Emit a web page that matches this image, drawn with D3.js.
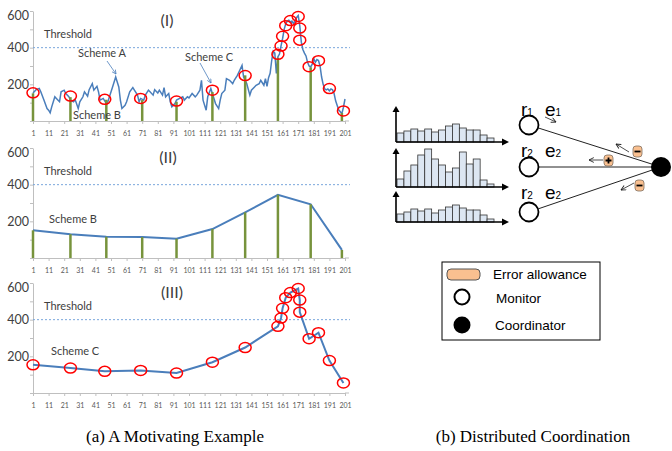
<!DOCTYPE html>
<html lang="en">
<head>
<meta charset="UTF-8">
<title>Motivating example</title>
<script src="https://cdn.jsdelivr.net/npm/d3@7"></script>
<style>
  body { margin: 0; background: #fff; }
  svg text { font-family: Lato, "Liberation Sans", sans-serif; }
</style>
</head>
<body>
<script>
// scheme A: raw stream (panel I)
const aDays = [1,3,5,6,8,10,11,12,13,15,16,18,19,21,22,24,25,27,28,30,31,33,34,36,37,39,40,42,43,44,46,48,49,50,52,53,54,56,57,58,60,61,63,65,66,68,69,70,72,73,75,76,78,79,81,82,84,85,86,88,89,90,92,93,95,97,98,100,101,103,105,106,108,109,110,112,113,115,116,118,120,121,122,124,125,127,129,130,132,133,135,136,138,140,141,143,144,146,147,149,150,151,152,153,154,155,156,157,158,159,160,161,162,163,164,165,166,167,168,169,170,171,172,173,174,175,176,177,178,179,180,181,182,183,184,185,186,187,188,189,190,191,192,193,194,195,196,197,198,199,200,201]
const aVals = [153,171,177,159,114,68,59,45,77,132,123,105,159,168,150,132,114,105,117,68,105,132,159,135,171,204,168,189,159,114,123,95,105,132,186,213,240,186,114,68,86,105,159,182,168,141,105,123,114,141,168,159,141,171,153,168,141,182,132,150,105,77,95,114,123,132,114,132,126,150,132,141,168,222,114,59,132,177,150,95,68,114,150,168,231,222,204,222,249,267,303,240,204,141,168,186,195,204,222,195,231,189,236,260,330,380,370,260,350,365,410,450,500,530,545,550,540,545,530,550,565,575,520,430,390,370,355,320,300,295,310,340,320,335,330,300,240,200,175,170,175,165,175,170,150,110,85,60,50,40,75,120]
// scheme B: periodic samples
const bDays = [1, 25, 48, 71, 93, 116, 137, 158, 179, 199]
const bVals = [151, 130, 116, 114, 105, 158, 249, 345, 293, 44]
// scheme C: adaptive samples
const cDays = [1, 25, 47, 70, 93, 116, 137, 158, 160, 161, 163, 166, 171, 172, 172, 178, 184, 191, 200]
const cVals = [154, 136, 118, 123, 109, 168, 248, 364, 409, 462, 520, 548, 570, 507, 441, 296, 329, 177, 55]
const xTickVals = [1, 11, 21, 31, 41, 51, 61, 71, 81, 91, 101, 111, 121, 131, 141, 151, 161, 171, 181, 191, 201]
const yTickVals = [0, 100, 200, 300, 400, 500, 600]
const yLabelVals = [200, 400, 600]
const threshold = 400
// histograms of the three monitors
const hist1 = [9, 11, 13, 11, 13, 10, 12, 16, 18, 14, 12, 12, 7, 4]
const hist2 = [8, 16, 22, 32, 38, 28, 22, 15, 19, 35, 23, 28, 7, 3]
const hist3 = [8, 10, 13, 11, 13, 9, 12, 15, 17, 14, 12, 12, 7, 3]

const [width, height] = [672, 451]
const blue = '#4a7ebb', green = '#77933c', textCol = '#404040'
const svg = d3.select('body').append('svg').attr('width', width).attr('height', height)

const defs = svg.append('defs')
const addMarker = (id, color, size) => {
    defs.append('marker').attr('id', id).attr('viewBox', '0 0 10 10')
        .attr('markerUnits', 'userSpaceOnUse')
        .attr('refX', 9).attr('refY', 5).attr('markerWidth', size).attr('markerHeight', size)
        .attr('orient', 'auto')
        .append('path').attr('d', 'M1,1 L9,5 L1,9').attr('fill', 'none')
        .attr('stroke', color).attr('stroke-width', 1.5)
}
addMarker('arrBlue', blue, 5)
addMarker('arrBlack', '#222', 6)

const x = d3.scaleLinear().domain([1, 201]).range([33, 345])

const renderPanel = (base, title, titleX) => {
    const y = d3.scaleLinear().domain([0, 600]).range([base, base - 110])
    const g = svg.append('g')
    const xAxis = d3.axisBottom(x).tickValues(xTickVals).tickSize(3).tickSizeOuter(0).tickPadding(7)
    g.append('g').attr('transform', `translate(0, ${base})`).call(xAxis)
    g.append('path').attr('d', `M345,${base}H349`).attr('stroke', '#bfbfbf')
    const yAxis = d3.axisLeft(y).tickValues(yTickVals).tickSize(3).tickSizeOuter(0).tickPadding(1)
        .tickFormat(d => yLabelVals.includes(d) ? d : '')
    g.append('g').attr('class', 'y-axis').attr('transform', 'translate(33, 0)').call(yAxis)
    g.selectAll('.domain, .tick line').attr('stroke', '#bfbfbf')
    g.selectAll('.tick text').attr('fill', '#595959').style('font-size', '7px')
    g.selectAll('.y-axis .tick text').attr('fill', textCol).style('font-size', '12.5px')
    g.selectAll('.y-axis .tick').filter(d => d === 600).select('text').attr('dy', '0.65em')
    g.append('line').attr('x1', 33).attr('x2', 350).attr('y1', y(threshold)).attr('y2', y(threshold))
        .attr('stroke', '#7aa6dc').attr('stroke-dasharray', '2,2')
    g.append('text').attr('x', 44).attr('y', y(threshold) - 10).attr('fill', textCol)
        .style('font-size', '11px').text('Threshold')
    g.append('text').attr('x', titleX).attr('y', base - 95).attr('text-anchor', 'middle')
        .attr('fill', textCol).style('font-size', '16px').text(title)
    return { g, y }
}

const drawBars = (g, y) => {
    g.selectAll('line.bar').data(bDays).join('line').attr('class', 'bar')
        .attr('x1', d => x(d)).attr('x2', d => x(d))
        .attr('y1', y(0)).attr('y2', (d, i) => y(bVals[i]))
        .attr('stroke', green).attr('stroke-width', 2.5)
}
const drawCircles = (g, y) => {
    g.selectAll('ellipse').data(cDays).join('ellipse')
        .attr('cx', d => x(d)).attr('cy', (d, i) => y(cVals[i]))
        .attr('rx', 6).attr('ry', 5).attr('fill', 'none')
        .attr('stroke', '#ff0000').attr('stroke-width', 1.5)
}
const label = (g, tx, ty, s) => g.append('text').attr('x', tx).attr('y', ty)
    .attr('fill', textCol).style('font-size', '11px').text(s)

// panel I
const p1 = renderPanel(121, '(I)', 167)
p1.g.append('path').datum(aDays)
    .attr('d', d3.line().x(d => x(d)).y((d, i) => p1.y(aVals[i])))
    .attr('fill', 'none').attr('stroke', blue).attr('stroke-width', 1.5)
drawBars(p1.g, p1.y)
drawCircles(p1.g, p1.y)
label(p1.g, 78, 57, 'Scheme A')
label(p1.g, 73, 119, 'Scheme B')
label(p1.g, 185, 61, 'Scheme C')
p1.g.append('line').attr('x1', 107).attr('y1', 61).attr('x2', 116).attr('y2', 74)
    .attr('stroke', blue).attr('stroke-width', 0.8).attr('marker-end', 'url(#arrBlue)')
p1.g.append('line').attr('x1', 200).attr('y1', 63).attr('x2', 211).attr('y2', 83)
    .attr('stroke', blue).attr('stroke-width', 0.8).attr('marker-end', 'url(#arrBlue)')

// panel II
const p2 = renderPanel(258, '(II)', 168)
p2.g.append('path').datum(bDays)
    .attr('d', d3.line().x(d => x(d)).y((d, i) => p2.y(bVals[i])))
    .attr('fill', 'none').attr('stroke', blue).attr('stroke-width', 2)
drawBars(p2.g, p2.y)
label(p2.g, 49, 223, 'Scheme B')

// panel III
const p3 = renderPanel(393, '(III)', 172)
p3.g.append('path').datum(cDays)
    .attr('d', d3.line().x(d => x(d)).y((d, i) => p3.y(cVals[i])))
    .attr('fill', 'none').attr('stroke', blue).attr('stroke-width', 2)
drawCircles(p3.g, p3.y)
label(p3.g, 51, 355, 'Scheme C')

// (b) distributed coordination
const right = svg.append('g')
const hx = d3.scaleBand().domain(d3.range(hist1.length)).range([397, 494])
const hy = d3.scaleLinear().domain([0, 40]).range([0, 40])
const renderHist = (data, base, top) => {
    const g = right.append('g')
    g.selectAll('rect').data(data).join('rect')
        .attr('x', (d, i) => hx(i)).attr('width', hx.bandwidth())
        .attr('y', d => base - hy(d)).attr('height', d => hy(d))
        .attr('fill', '#dce6f2').attr('stroke', '#333').attr('stroke-width', 0.8)
    g.append('path').attr('d', `M396,${base}V${top + 5}M396,${base}H503`)
        .attr('stroke', '#000').attr('stroke-width', 1.6)
    g.append('path').attr('d', `M392.5,${top + 6}L396,${top}L399.5,${top + 6}Z`)
    g.append('path').attr('d', `M502,${base - 3.5}L509,${base}L502,${base + 3.5}Z`)
}
renderHist(hist1, 142, 106)
renderHist(hist2, 187, 148)
renderHist(hist3, 222, 191)

const coord = [661, 167]
const monitors = [[529, 125], [529, 167], [529, 212]]
monitors.forEach(([cx, cy]) => {
    const a = Math.atan2(coord[1] - cy, coord[0] - cx)
    right.append('line').attr('x1', cx + 10 * Math.cos(a)).attr('y1', cy + 10 * Math.sin(a))
        .attr('x2', coord[0]).attr('y2', coord[1]).attr('stroke', '#222').attr('stroke-width', 1)
    right.append('circle').attr('cx', cx).attr('cy', cy).attr('r', 9.5)
        .attr('fill', '#fff').attr('stroke', '#000').attr('stroke-width', 1.8)
})
right.append('circle').attr('cx', coord[0]).attr('cy', coord[1]).attr('r', 10).attr('fill', '#000')

const reLabels = [['1', '1', 116], ['2', '2', 157], ['2', '2', 199]]
reLabels.forEach(([rs, es, by]) => {
    const t = right.append('text').attr('y', by).attr('fill', '#000')
        .style('font-family', '"Liberation Sans", Arial, sans-serif').style('font-size', '19px')
    t.append('tspan').attr('x', 521).text('r')
    t.append('tspan').style('font-size', '10px').text(rs)
    t.append('tspan').attr('x', 545).text('e')
    t.append('tspan').style('font-size', '10px').text(es)
})

const smallArrows = [[545, 117, 556, 122], [629, 152, 616, 144], [603, 160, 589, 160], [634, 183, 621, 190]]
right.selectAll('line.sa').data(smallArrows).join('line').attr('class', 'sa')
    .attr('x1', d => d[0]).attr('y1', d => d[1]).attr('x2', d => d[2]).attr('y2', d => d[3])
    .attr('stroke', '#222').attr('stroke-width', 0.8).attr('marker-end', 'url(#arrBlack)')

const allowances = [[637.5, 151.5, '-'], [608.5, 160.5, '+'], [639.5, 185.5, '-']]
allowances.forEach(([cx, cy, s]) => {
    right.append('rect').attr('x', cx - 4.5).attr('y', cy - 5.5).attr('width', 9).attr('height', 11)
        .attr('rx', 3).attr('fill', '#fac090').attr('stroke', '#7f6f5f').attr('stroke-width', 0.8)
    right.append('path').attr('d', s === '+' ? `M${cx - 3},${cy}H${cx + 3}M${cx},${cy - 3}V${cy + 3}` : `M${cx - 3},${cy}H${cx + 3}`)
        .attr('stroke', '#000').attr('stroke-width', 1.8)
})

// legend
const legend = right.append('g')
legend.append('rect').attr('x', 442).attr('y', 262).attr('width', 158).attr('height', 78)
    .attr('fill', '#fff').attr('stroke', '#000').attr('stroke-width', 1)
legend.append('rect').attr('x', 447).attr('y', 269).attr('width', 33).attr('height', 11).attr('rx', 4)
    .attr('fill', '#fac090').attr('stroke', '#555')
legend.append('circle').attr('cx', 462).attr('cy', 297).attr('r', 7.5)
    .attr('fill', '#fff').attr('stroke', '#000').attr('stroke-width', 2)
legend.append('circle').attr('cx', 462).attr('cy', 325).attr('r', 8.5).attr('fill', '#000')
const legendItems = [['Error allowance', 493, 279], ['Monitor', 496, 303], ['Coordinator', 495, 330]]
legend.selectAll('text').data(legendItems).join('text')
    .attr('x', d => d[1]).attr('y', d => d[2]).text(d => d[0])
    .style('font-family', '"Liberation Sans", Arial, sans-serif').style('font-size', '13.5px')

// captions
const captions = [['(a) A Motivating Example', 175], ['(b) Distributed Coordination', 533]]
svg.selectAll('text.caption').data(captions).join('text').attr('class', 'caption')
    .attr('x', d => d[1]).attr('y', 442).attr('text-anchor', 'middle').text(d => d[0])
    .style('font-family', '"Liberation Serif", "Times New Roman", serif').style('font-size', '17px')
</script>
</body>
</html>
